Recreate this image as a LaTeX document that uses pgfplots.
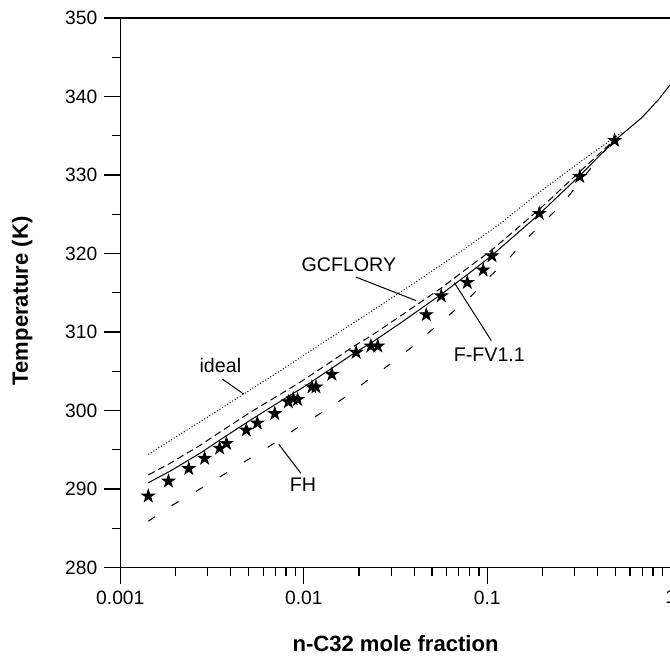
\documentclass[border=0pt]{standalone}
\usepackage{fontspec}
\setmainfont{Liberation Sans}
\setsansfont{Liberation Sans}
\usepackage{pgfplots}
\pgfplotsset{compat=1.18}

\pgfdeclareplotmark{fstar}{%
  \pgfpathmoveto{\pgfpoint{0pt}{\pgfplotmarksize}}%
  \pgfpathlineto{\pgfpoint{-0.2245\pgfplotmarksize}{0.309\pgfplotmarksize}}%
  \pgfpathlineto{\pgfpoint{-0.951\pgfplotmarksize}{0.309\pgfplotmarksize}}%
  \pgfpathlineto{\pgfpoint{-0.363\pgfplotmarksize}{-0.118\pgfplotmarksize}}%
  \pgfpathlineto{\pgfpoint{-0.588\pgfplotmarksize}{-0.809\pgfplotmarksize}}%
  \pgfpathlineto{\pgfpoint{0pt}{-0.382\pgfplotmarksize}}%
  \pgfpathlineto{\pgfpoint{0.588\pgfplotmarksize}{-0.809\pgfplotmarksize}}%
  \pgfpathlineto{\pgfpoint{0.363\pgfplotmarksize}{-0.118\pgfplotmarksize}}%
  \pgfpathlineto{\pgfpoint{0.951\pgfplotmarksize}{0.309\pgfplotmarksize}}%
  \pgfpathlineto{\pgfpoint{0.2245\pgfplotmarksize}{0.309\pgfplotmarksize}}%
  \pgfpathclose
  \pgfusepathqfillstroke
}

\pgfplotstableread{
x T
0.00142 289.1
0.00183 291.0
0.00236 292.6
0.00288 293.9
0.00348 295.2
0.00379 295.8
0.00486 297.5
0.00558 298.4
0.00695 299.6
0.00824 301.1
0.00875 301.5
0.00925 301.4
0.01107 303.0
0.01165 303.0
0.01422 304.6
0.0193 307.4
0.0232 308.2
0.0253 308.2
0.0465 312.2
0.0561 314.6
0.0778 316.3
0.0949 317.9
0.106 319.7
0.192 325.1
0.319 329.8
0.494 334.4
}\expdata

\pgfplotstableread{
x T
0.001422 290.8
0.001876 292.3
0.002737 294.6
0.003518 296.3
0.005134 298.8
0.007484 301.2
0.009838 302.9
0.01404 305.3
0.01876 307.3
0.02323 308.6
0.03390 311.2
0.05606 314.8
0.08177 317.7
0.1052 319.7
0.1916 325.0
0.3182 329.9
0.4943 334.4
0.6944 337.3
0.8566 339.6
1.0 341.6
}\ffv

\pgfplotstableread{
x T
0.001422 291.8
0.001876 293.3
0.002737 295.6
0.003518 297.3
0.005134 299.8
0.007484 302.1
0.009838 303.8
0.01404 306.2
0.01876 308.2
0.02323 309.5
0.03390 312.1
0.05606 315.6
0.08177 318.5
0.1052 320.4
0.1916 325.6
0.3182 330.4
0.4943 334.5
}\gcflory

\pgfplotstableread{
x T
0.001422 294.4
0.001876 296.2
0.002737 298.6
0.004699 302.1
0.007484 305.1
0.01404 309.3
0.02323 312.6
0.04093 316.4
0.07210 320.3
0.1144 323.6
0.1973 328.0
0.3264 331.8
0.4943 334.8
0.5399 335.4
}\ideal

\pgfplotstableread{
x T
0.001422 285.9
0.001876 287.8
0.002506 289.5
0.003518 291.6
0.006358 295.3
0.008818 297.5
0.01208 299.5
0.01654 301.6
0.02182 303.7
0.02988 306.0
0.03843 308.0
0.04943 310.2
0.06520 312.6
0.08177 314.6
0.1025 317.0
0.1302 319.3
0.1593 321.6
0.2023 324.0
0.2538 326.2
0.3143 328.9
0.3701 331.0
0.4357 333.1
0.4943 334.4
}\fh

\begin{document}
\begin{tikzpicture}
\begin{axis}[
  scale only axis, width=274.5pt, height=274pt,
  xmode=log, xmin=0.001, xmax=1, ymin=280, ymax=350,
  xtick={0.001,0.01,0.1,1}, xticklabels={0.001,0.01,0.1,1},
  minor xtick={0.002,0.003,0.004,0.005,0.006,0.007,0.008,0.009,0.02,0.03,0.04,0.05,0.06,0.07,0.08,0.09,0.2,0.3,0.4,0.5,0.6,0.7,0.8,0.9},
  ytick={280,290,...,350}, minor ytick={285,295,...,345},
  tick align=outside, xtick pos=bottom, ytick pos=left,
  major tick length=8pt, minor tick length=4pt,
  tick style={black, line width=0.6pt},
  axis line style={line width=0.75pt},
  /pgf/number format/assume math mode=true,
  ticklabel style={font=\fontsize{9.6}{11}\selectfont},
  xlabel={n-C32 mole fraction}, ylabel={Temperature (K)},
  label style={font=\fontsize{11}{13}\selectfont\bfseries},
  xlabel style={at={(axis description cs:0.5,-0.138)}, anchor=center},
  ylabel style={at={(axis description cs:-0.1785,0.4854)}, anchor=center},
]
\addplot[black, line width=0.5pt, densely dotted] table {\ideal};
\addplot[black, line width=0.5pt, dash pattern=on 3.5pt off 2pt] table {\gcflory};
\addplot[black, line width=0.5pt] table {\ffv};
\addplot[black, line width=0.5pt, dash pattern=on 4pt off 10pt] table {\fh};
\addplot[only marks, mark=fstar, mark size=3.3pt, black] table {\expdata};

\node[font=\fontsize{9.8}{11}\selectfont] at (axis cs:0.0176,318.6) {GCFLORY};
\draw[line width=0.5pt] (axis cs:0.01923,317.0) -- (axis cs:0.0409,314.0);
\node[font=\fontsize{9.8}{11}\selectfont] at (axis cs:0.1026,307.1) {F-FV1.1};
\draw[line width=0.5pt] (axis cs:0.1052,308.9) -- (axis cs:0.0661,316.3);
\node[font=\fontsize{9.8}{11}\selectfont] at (axis cs:0.00351,305.7) {ideal};
\draw[line width=0.5pt] (axis cs:0.0036,304.0) -- (axis cs:0.0047,302.1);
\node[font=\fontsize{9.8}{11}\selectfont] at (axis cs:0.00989,290.5) {FH};
\draw[line width=0.5pt] (axis cs:0.0073,295.7) -- (axis cs:0.00964,292.0);
\end{axis}
\pgfresetboundingbox
\path[use as bounding box] ([xshift=-60pt,yshift=-44pt]current axis.south west) rectangle ([xshift=-0.4pt,yshift=9pt]current axis.north east);
\end{tikzpicture}
\end{document}
